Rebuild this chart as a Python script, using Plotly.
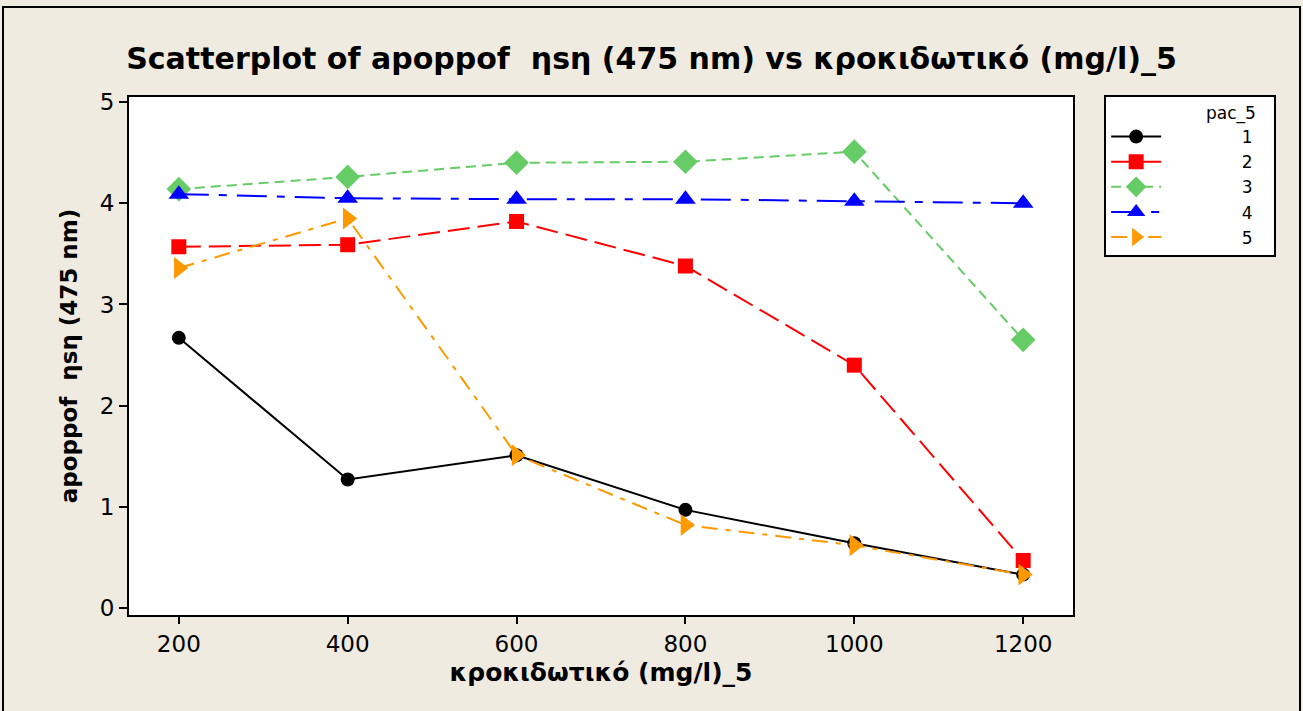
import plotly.graph_objects as go

# Flocculant dose (mg/l) on the x axis
dose = [200, 400, 600, 800, 1000, 1200]

# Absorbance at 475 nm for each pac_5 level
pac_levels = ["1", "2", "3", "4", "5"]
abs_1 = [2.67, 1.27, 1.51, 0.97, 0.64, 0.33]
abs_2 = [3.57, 3.59, 3.82, 3.38, 2.40, 0.47]
abs_3 = [4.14, 4.26, 4.40, 4.41, 4.51, 2.65]
abs_4 = [4.09, 4.05, 4.04, 4.04, 4.02, 4.00]
abs_5 = [3.36, 3.85, 1.51, 0.82, 0.62, 0.33]

x_ticks = [200, 400, 600, 800, 1000, 1200]
y_ticks = [0, 1, 2, 3, 4, 5]

series = [abs_1, abs_2, abs_3, abs_4, abs_5]
colors = ["#000000", "#FF0000", "#66CC66", "#0000FF", "#FF9900"]
symbols = ["circle", "square", "diamond", "triangle-up", "triangle-right"]
sizes = [14, 15, 19, 18, 19]
dashes = ["solid", "22px,8px", "10px,6px", "30px,10px,8px,10px", "16px,8px,5px,8px"]

BG = "#EFEBE0"
FONT = "DejaVu Sans"
NB = "\u00a0"

fig = go.Figure()
for lvl, ys, c, s, sz, d in zip(pac_levels, series, colors, symbols, sizes, dashes):
    fig.add_trace(go.Scatter(
        x=dose, y=ys, mode="lines+markers",
        name=NB * 14 + lvl + NB * 3,
        line=dict(color=c, width=2, dash=d),
        marker=dict(color=c, symbol=s, size=sz, line=dict(width=0)),
    ))

fig.update_layout(
    width=1303, height=711,
    paper_bgcolor=BG, plot_bgcolor="white",
    margin=dict(l=129, r=230, t=97, b=96),
    title=dict(
        text="<b>Scatterplot of apoppof  ηsη (475 nm) vs κροκιδωτικό (mg/l)_5</b>",
        x=0.5, xref="container", xanchor="center",
        y=1 - 58 / 711, yref="container", yanchor="middle",
        font=dict(family=FONT, size=30, color="black"),
    ),
    showlegend=True,
    legend=dict(
        x=1.033, xanchor="left", y=1.004, yanchor="top",
        bgcolor="white", bordercolor="black", borderwidth=2,
        font=dict(family=FONT, size=17, color="black"),
        title=dict(text="pac_5" + NB * 3, side="top right", font=dict(family=FONT, size=17)),
        itemwidth=50, tracegroupgap=0,
    ),
    xaxis=dict(
        range=[141, 1259], tickvals=x_ticks, ticktext=[str(v) for v in x_ticks],
        ticks="outside", ticklen=7, tickwidth=1.5, tickcolor="black",
        showline=True, linecolor="black", linewidth=2, mirror=True,
        showgrid=False, zeroline=False,
        tickfont=dict(family=FONT, size=23, color="black"),
        title=dict(text="<b>κροκιδωτικό (mg/l)_5</b>", standoff=8,
                   font=dict(family=FONT, size=25, color="black")),
    ),
    yaxis=dict(
        range=[-0.069, 5.05], tickvals=y_ticks, ticktext=[str(v) for v in y_ticks],
        ticks="outside", ticklen=8, tickwidth=1.5, tickcolor="black",
        showline=True, linecolor="black", linewidth=2, mirror=True,
        showgrid=False, zeroline=False,
        tickfont=dict(family=FONT, size=23, color="black"),
        title=dict(text="<b>apoppof  ηsη (475 nm)</b>", standoff=16,
                   font=dict(family=FONT, size=23, color="black")),
    ),
    shapes=[dict(type="rect", xref="paper", yref="paper",
                 x0=-126 / 944, x1=(1300 - 129) / 944,
                 y0=-(711 - 615 + 2) / 518, y1=(615 - 7) / 518,
                 line=dict(color="black", width=2), layer="below")],
)

fig.write_html("out.html")
